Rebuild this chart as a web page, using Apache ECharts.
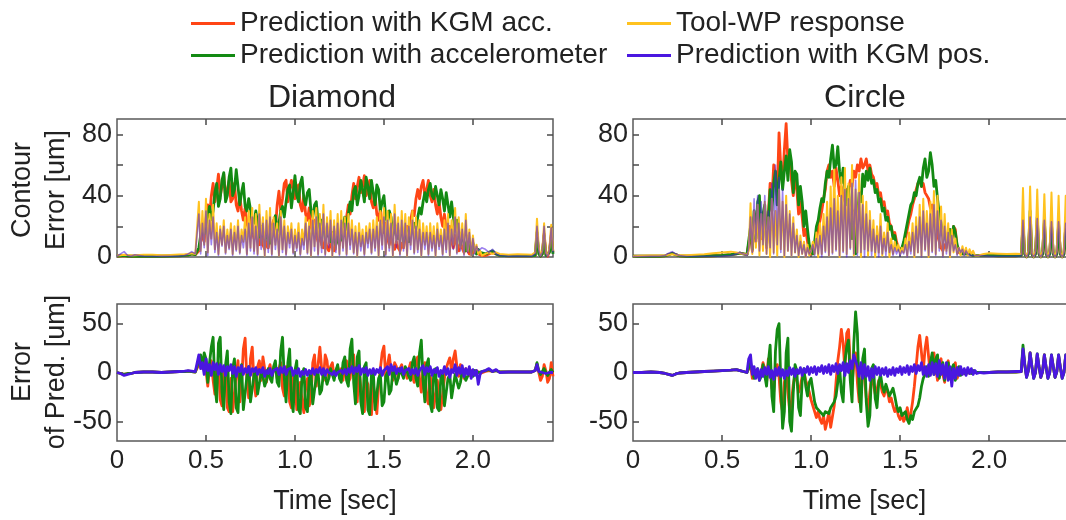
<!DOCTYPE html>
<html>
<head>
<meta charset="utf-8">
<title>Contour error and prediction error</title>
<script src="https://cdn.jsdelivr.net/npm/echarts@6/dist/echarts.min.js"></script>
<style>
  html, body { margin: 0; padding: 0; background: #fff; }
  #chart { width: 1066px; height: 520px; }
</style>
</head>
<body>
<div id="chart"></div>
<script>
// ---------- sample times (centiseconds) ----------
const DIAMOND_T_CS = [
  0,2,4,6,8,10,15,20,25,30,35,38,40,42,44,
  45,46,47,48,49,50,51,52,53,54, 55,56,57,58,59,60,61,62,63,64,
  65,66,67,68,69,70,71,72,73,74, 75,76,77,78,79,80,81,82,83,84,
  85,86,87,88,89,90,91,92,93,94, 95,96,97,98,99,100,101,102,103,104,
  105,106,107,108,109,110,111,112,113,114, 115,116,117,118,119,120,121,122,123,124,
  125,126,127,128,129,130,131,132,133,134, 135,136,137,138,139,140,141,142,143,144,
  145,146,147,148,149,150,151,152,153,154, 155,156,157,158,159,160,161,162,163,164,
  165,166,167,168,169,170,171,172,173,174, 175,176,177,178,179,180,181,182,183,184,
  185,186,187,188,189,190,191,192,193,194, 195,196,197,198,199,200,201,202,203,204,
  205,
  207,209,211,213,215,220,225,230,233,
  234,235,236,237,238,239,240,241,242,243,244,245
];
const CIRCLE_T_CS = [
  0,5,10,15,18,20,22,24,26,30,35,40,45,50,55,58,60,62,64,
  65,66,67,68,69,70,71,72,73,74, 75,76,77,78,79,80,81,82,83,84,
  85,86,87,88,89,90,91,92,93,94, 95,96,97,98,99,100,101,102,103,104,
  105,106,107,108,109,110,111,112,113,114, 115,116,117,118,119,120,121,122,123,124,
  125,126,127,128,129,130,131,132,133,134, 135,136,137,138,139,140,141,142,143,144,
  145,146,147,148,149,150,151,152,153,154, 155,156,157,158,159,160,161,162,163,164,
  165,166,167,168,169,170,171,172,173,174, 175,176,177,178,179,180,181,182,183,184,
  185,186,187,188,189,190,191,192,193,194,
  195,
  197,200,205,210,215,218,
  219,220,221,222,223,224,225,226,227,228,229,230,231,232,233,234,235,236,237,238,239,240,241,242,243,244,245
];

// ---------- Diamond: contour error [um] ----------
const DIAMOND_CONTOUR_KGM_ACC = [
  0.5,0.7,0.9,0.6,0.5,0.5,0.5,0.6,0.5,0.7,0.8,1,1.3,2,1.5,
  1,4,10,16,10,24,34,26,40,48,
  36,44,54,40,46,54,38,44,50,36,
  38,48,34,30,40,30,24,32,22,18,
  26,16,12,20,12,8,14,8,5,10,
  6,12,20,24,18,34,43,30,38,48,
  50,36,44,50,50,38,42,47,34,30,
  40,28,24,32,20,16,24,14,10,16,
  8,6,12,6,4,10,6,4,9,14,
  8,16,22,14,26,34,28,40,48,38,
  46,52,42,46,53,40,44,50,36,32,
  40,28,24,32,20,16,22,12,8,14,
  8,5,10,6,4,9,6,12,20,14,
  24,30,27,38,44,38,46,50,40,44,
  50,40,36,44,34,28,36,26,20,28,
  18,12,20,10,6,14,8,4,10,6,
  3,8,4,2,6,3,2,4,2,1,
  1,
  1,2,3,2,1,0.8,0.7,0.8,0.7,
  0.5,1,14,3,0.5,2,15,2,0.5,4,14,3
];
const DIAMOND_CONTOUR_ACCEL = [
  0.5,0.8,1,0.6,0.5,0.4,0.5,0.6,0.5,0.6,0.8,1,1.2,2,1.5,
  2,6,14,22,15,20,28,33,24,30,
  42,48,33,38,50,55,36,40,52,58,
  40,44,57,46,34,42,48,33,30,38,
  38,24,22,30,22,13,20,16,10,14,
  16,9,14,20,27,16,22,30,33,26,
  36,44,47,32,42,53,40,36,48,52,
  38,34,42,44,30,26,34,36,22,18,
  24,22,12,14,18,10,16,14,8,12,
  16,11,20,26,18,28,36,30,43,46,
  34,40,50,44,36,52,46,38,50,42,
  34,47,44,30,36,40,26,22,30,26,
  14,18,20,12,16,18,10,14,17,10,
  15,18,22,18,26,32,28,36,42,36,
  44,48,40,38,46,40,34,44,38,30,
  42,34,26,36,26,18,24,16,8,14,
  10,4,12,8,3,9,5,2,5,3,
  2,
  2,3,4,2,1,0.8,0.7,0.8,0.7,
  0.5,1,16,2,0.5,2,14,1,0.5,3,13,2
];
const DIAMOND_CONTOUR_TOOL_WP = [
  1,1.2,1.5,1.3,1,1.2,1.5,1.4,1.2,1.3,1.6,1.8,2,2.5,2,
  2,36,4,30,8,38,3,28,12,34,
  5,22,2,20,8,24,3,18,6,22,
  2,20,5,24,3,18,10,26,2,30,
  6,32,4,28,2,34,8,26,1,30,
  6,32,2,26,8,22,1,30,5,24,
  2,20,9,22,3,18,6,22,2,18,
  8,26,3,24,1,30,7,32,2,28,
  6,34,2,26,9,30,1,24,5,28,
  2,30,6,26,2,28,8,24,3,20,
  1,22,7,18,2,20,9,22,3,24,
  6,26,1,30,8,32,2,30,6,28,
  1,34,9,26,2,30,6,28,1,26,
  8,30,3,26,5,24,1,22,8,20,
  2,22,6,20,1,22,7,18,2,24,
  5,28,1,24,8,32,3,26,6,22,
  2,28,4,18,1,14,3,8,2,4,
  1,
  2,3,2,3,2,1.5,1.8,1.6,1.4,
  1,3,25,6,1,4,22,3,1,6,21,4
];
const DIAMOND_CONTOUR_KGM_POS = [
  0.5,2,3.5,1,0.5,1.5,0.5,0.3,0.4,0.5,0.6,1,2,3.5,2,
  3,28,2,22,6,30,1,24,8,26,
  3,16,1,18,7,20,2,14,5,18,
  1,16,4,20,2,14,6,18,1,22,
  4,26,2,20,1,28,5,22,1,24,
  3,26,1,22,5,18,1,26,3,20,
  1,16,6,18,2,14,4,16,1,12,
  5,22,2,20,1,24,4,26,1,22,
  3,28,1,22,6,24,1,20,3,22,
  1,24,4,22,1,22,5,18,2,16,
  1,16,4,14,1,16,6,18,2,18,
  4,20,1,24,5,26,1,24,4,22,
  1,28,6,22,1,24,4,22,1,20,
  5,24,2,20,3,18,1,16,5,16,
  1,16,4,14,1,18,5,14,1,18,
  3,22,1,18,5,26,2,22,4,18,
  1,24,3,16,1,12,2,7,4,5,
  6,
  5,3,5,2,1,0.5,0.6,0.5,0.5,
  0.5,2,20,4,0.5,3,20,2,0.5,5,19,3
];

// ---------- Diamond: error of prediction [um] ----------
const DIAMOND_PRED_KGM_ACC = [
  0,-1,-2,-1,-1,0,0.5,0.5,0,0.5,1,1,1.5,1,0.5,
  1,8,14,4,12,2,-14,6,12,-8,
  -22,4,10,-28,-34,0,6,-36,-40,-6,
  -40,-38,-2,12,-30,-10,24,35,-8,-26,
  14,26,-10,-24,6,12,-8,16,4,-10,
  2,8,-4,2,8,-6,4,10,-16,-24,
  6,2,-30,-36,-4,-8,-38,-40,-10,-30,
  -41,-12,-6,-34,-28,10,18,-14,8,26,
  4,-8,18,12,-6,6,10,-4,2,6,
  -2,4,-8,6,12,-10,-6,14,18,-22,
  -30,4,2,-34,-40,-8,-12,-40,-43,-10,
  -30,-42,-14,4,20,27,-6,8,18,2,
  -8,10,6,-6,4,8,-2,2,-6,4,
  10,-4,-10,12,16,-6,-20,4,10,-26,
  -32,-4,-10,-36,-38,-8,-20,-38,-36,-6,
  4,10,15,2,14,22,6,-4,8,2,
  -6,4,2,-3,2,0,-2,2,0,-1,
  0,
  1,2,1,2,0.5,0.5,0.5,0.5,0.5,
  0.5,2,9,0,-8,-4,8,2,-10,-6,10,-4
];
const DIAMOND_PRED_ACCEL = [
  0,-1,-2,-1,-1,0,0.5,0.5,0,0.5,1,1,1.5,1,0.5,
  2,12,18,6,20,14,-10,10,26,36,
  -12,-30,30,36,-20,-38,8,22,-30,-42,
  4,14,-36,-41,0,8,-38,-40,-4,6,
  -30,-32,-2,2,-22,-20,0,-4,-14,-8,
  4,-6,-10,6,12,-10,-14,22,36,-6,
  -30,10,24,-28,-40,2,12,-38,-42,-2,
  4,-36,-40,-6,0,-32,-30,-4,0,-22,
  -18,0,-3,-12,-6,4,-2,-8,2,8,
  -6,-10,10,16,-8,-14,24,34,-10,-32,
  16,22,-30,-42,6,10,-38,-43,-2,2,
  -38,-40,-6,-2,-34,-30,-4,0,-22,-18,
  2,-2,-12,-6,4,2,-6,6,8,-4,
  -8,10,16,-6,-14,20,33,-8,-30,8,
  14,-32,-40,0,4,-36,-39,-4,0,-34,
  -34,-6,-2,-26,-24,-2,-4,-16,-10,2,
  -2,-8,-4,3,0,-4,2,4,0,2,
  1,
  2,3,1,2,0.5,0.5,0.5,0.5,0.5,
  0.5,2,10,2,-2,0,4,0,-3,0,3,0
];
const DIAMOND_PRED_KGM_POS = [
  0,-1,-3,-2,-1,0,0.5,0.5,0,0.5,1,1.5,2,1.5,1,
  2,18,4,10,-2,14,2,8,-3,10,
  3,9,-2,8,1,7,-3,6,2,8,
  -1,6,-4,5,1,7,-2,4,0,6,
  -3,4,1,5,-2,3,0,5,-4,2,
  -1,4,-3,2,0,4,-2,5,0,6,
  -2,3,1,5,-3,2,-1,4,-4,1,
  -2,3,-3,2,-1,4,-2,3,0,5,
  -2,4,-3,3,0,2,-2,1,-3,0,
  -2,2,-1,3,-2,4,0,6,-1,5,
  1,7,-2,4,0,5,-3,3,-1,4,
  -2,3,0,5,-3,2,0,6,-2,8,
  2,6,-1,4,1,5,-2,2,0,4,
  -2,3,-1,4,-3,2,0,7,-2,5,
  1,6,-3,3,0,5,-4,2,-1,6,
  -2,4,-5,3,0,8,-3,5,-1,7,
  -4,4,-2,6,-6,3,-3,2,-12,-2,
  1,
  2,4,1,3,0,0.5,0.5,0.5,0.5,
  0.5,2,8,1,-1,0,1,-1,-2,0,-1,0
];

// ---------- Circle: contour error [um] ----------
const CIRCLE_CONTOUR_KGM_ACC = [
  0.5,0.5,0.6,0.5,0.8,1.5,2.5,1.5,0.8,0.5,0.5,0.6,0.8,1,1.5,2,2.5,2,1.5,
  2,16,4,26,10,32,36,12,26,30,
  6,28,48,36,60,52,40,81,58,48,
  70,87,62,66,50,40,52,44,28,36,
  26,14,18,10,4,2,4,8,12,18,
  24,30,38,44,56,60,52,56,46,58,
  50,40,46,40,36,44,42,50,46,56,
  52,60,56,64,58,60,64,56,60,54,
  52,46,48,40,42,34,36,28,30,22,
  20,14,16,10,6,4,5,8,12,18,
  24,28,34,38,44,48,50,46,48,42,
  40,38,32,34,24,20,14,10,6,4,
  8,6,12,16,10,20,18,6,3,2,
  2,3,2,1,2,1,1,1,1,1,
  1,
  1,1,0.8,0.8,0.8,1,
  20,2,0,2,26,2,0,2,24,2,0,2,22,2,0,2,21,2,0,2,21,2,0,2,20,2,0
];
const CIRCLE_CONTOUR_ACCEL = [
  0.5,0.5,0.6,0.5,0.8,1.5,2.5,1.5,0.8,0.5,0.5,0.6,0.8,1,1.5,2,2.5,2,1.5,
  2,20,5,30,12,36,40,14,28,34,
  8,24,44,30,48,56,34,50,62,44,
  56,66,50,70,62,42,56,54,34,46,
  36,20,30,18,8,4,2,10,20,24,
  32,38,36,48,56,52,64,73,58,60,
  72,56,48,58,44,34,46,26,12,30,
  2,26,42,36,54,46,56,50,58,48,
  50,42,44,36,38,30,32,24,26,18,
  20,12,14,7,8,4,6,10,16,22,
  28,34,36,42,40,48,52,46,58,64,
  52,56,68,60,46,50,38,28,22,14,
  16,10,14,18,12,20,16,8,4,3,
  2,3,2,1,2,1,1,1,1,1,
  1,
  1,1,0.8,0.8,0.8,1,
  22,2,0,2,30,2,0,2,26,2,0,2,24,2,0,2,22,2,0,2,22,2,0,2,20,2,0
];
const CIRCLE_CONTOUR_TOOL_WP = [
  0.5,0.8,1,1,1.2,1.5,1.8,1.5,1.2,1.2,1.5,1.8,2.5,3,3.5,3,2.5,2,1.5,
  4,35,2,30,6,34,1,28,4,36,
  2,26,0,38,3,30,1,44,5,36,
  0,40,4,30,1,26,3,18,0,14,
  2,10,0,8,1,4,10,2,16,0,
  22,2,28,4,36,1,46,3,57,5,
  40,0,52,4,58,2,48,6,60,1,
  44,3,54,0,40,5,36,1,30,4,
  24,0,20,3,28,1,16,4,22,0,
  12,2,10,4,8,2,6,3,12,1,
  16,4,22,0,26,3,34,1,38,5,
  30,0,36,4,43,2,40,6,33,1,
  28,4,22,0,18,3,12,2,6,1,
  7,2,6,1,5,2,4,1,2,1,
  1.5,
  2,2.5,2.2,2,2.2,2,
  45,3,0,4,46,3,0,4,44,3,0,4,41,3,0,4,42,3,0,4,40,3,0,4,40,3,0
];
const CIRCLE_CONTOUR_KGM_POS = [
  0.3,0.3,0.4,0.5,1,2.5,3.5,2,1,0.3,0.3,0.4,0.5,0.6,1,2,3,2,1,
  6,26,3,38,10,40,4,36,8,40,
  2,30,6,48,2,60,8,52,3,44,
  1,34,4,28,1,22,3,14,1,10,
  2,8,0,6,2,4,8,1,12,2,
  14,0,20,3,26,1,32,2,38,4,
  30,1,40,3,44,0,38,5,48,2,
  50,1,42,3,34,0,28,4,24,1,
  18,3,14,0,20,2,12,1,16,3,
  8,1,6,2,5,1,4,2,8,0,
  10,2,16,1,20,3,26,0,30,4,
  22,1,28,3,34,1,30,4,24,0,
  20,2,16,1,14,4,8,1,6,3,
  5,1,4,2,3,1,2,1,1,1,
  1,
  0.8,0.6,0.5,0.5,0.6,0.8,
  24,2,0,2,26,2,0,2,25,2,0,2,24,2,0,2,23,2,0,2,23,2,0,2,22,2,0
];

// ---------- Circle: error of prediction [um] ----------
const CIRCLE_PRED_KGM_ACC = [
  0,0,0.5,0,-1,-2,-3,-1.5,-0.5,0,0.5,1,1.5,2,2.5,3,2,1,0,
  0,8,-6,-8,2,4,-6,0,10,4,
  -10,14,4,-16,-20,2,8,-4,-30,-40,
  -10,0,-20,-40,-30,-12,-2,-8,-20,-14,
  -4,0,-8,-14,-20,-28,-34,-40,-46,-40,
  -48,-52,-44,-58,-50,-40,-56,-58,-34,-10,
  12,26,44,30,2,40,44,10,-12,8,
  20,-10,-30,-14,6,-6,-26,-40,-20,-4,
  -12,-22,-18,-8,-12,-20,-24,-16,-20,-30,
  -26,-34,-40,-36,-44,-48,-42,-50,-46,-36,
  -48,-42,-30,-14,6,26,38,20,2,24,
  36,16,-2,14,20,4,-8,10,14,-2,
  -10,8,12,-4,-8,6,10,-6,-4,3,
  2,-1,2,1,-1,1,0,1,0,0,
  0,
  0,0,0.5,0.5,0.5,1,
  22,8,-4,2,20,6,-5,0,18,6,-5,1,18,5,-5,0,17,6,-5,1,17,5,-5,0,17,5,-5
];
const CIRCLE_PRED_ACCEL = [
  0,0,0.5,0,-1,-2,-3,-1.5,-0.5,0,0.5,1,1.5,2,2.5,3,2,1,0,
  0,10,12,-6,-2,4,-8,-4,8,6,
  -14,10,28,-24,-40,22,44,50,-10,-57,
  -40,20,35,-50,-60,-20,8,2,-36,-44,
  -8,4,-14,-24,-10,-6,-18,-30,-36,-34,
  -40,-38,-44,-40,-38,-42,-36,-38,-30,-24,
  -10,6,-20,-30,12,26,33,-8,-30,30,
  62,40,-20,-40,14,24,-30,-55,-44,4,
  8,-26,-36,-10,-2,-14,-20,-12,-18,-24,
  -20,-16,-24,-34,-40,-36,-44,-46,-40,-48,
  -52,-44,-48,-40,-42,-34,-26,-14,-6,-2,
  6,-4,10,20,-2,14,18,-6,4,10,
  -8,6,10,-6,4,8,-8,2,6,-3,
  2,4,-2,2,3,-1,2,1,0,1,
  0,
  0,0,0.5,0.5,0.5,1,
  28,8,-5,2,20,6,-6,0,19,6,-5,1,18,5,-6,0,18,6,-5,1,18,5,-6,0,18,5,-5
];
const CIRCLE_PRED_KGM_POS = [
  0,0,0.5,0,-1,-2,-3,-1.5,-0.5,0,0.5,1,1.5,2,2.5,3,2,1,0,
  14,18,-2,6,-6,4,-8,3,-4,5,
  -2,6,-5,2,-7,4,-3,5,-4,3,
  -6,2,-3,5,-2,4,-4,3,-1,5,
  -3,4,0,6,-2,5,0,6,-2,5,
  1,7,-1,6,0,8,-2,7,1,9,
  -1,8,2,10,-3,9,0,12,4,18,
  20,6,-4,10,-6,8,-4,6,-8,4,
  -5,6,-2,5,-3,4,-2,5,-4,3,
  -2,5,-3,4,0,6,-2,5,0,7,
  -2,6,1,8,-1,7,2,10,-2,6,
  -4,8,-3,10,-2,9,-4,12,-2,8,
  -6,10,-8,6,-14,4,-6,5,-3,6,
  -2,4,-3,5,-1,4,-2,2,-1,1,
  0,
  -0.5,0,0.5,0.5,1,1,
  24,8,-5,2,20,6,-6,0,19,6,-5,1,18,5,-6,0,18,6,-5,1,18,5,-6,0,18,5,-5
];

// ---------- labels ----------
const PANEL_TITLES = ['Diamond', 'Circle'];
const SERIES_NAMES = {
  kgmAcc: 'Prediction with KGM acc.',
  accel: 'Prediction with accelerometer',
  toolWp: 'Tool-WP response',
  kgmPos: 'Prediction with KGM pos.'
};
const TIME_TICKS = [0, 0.5, 1, 1.5, 2];
const CONTOUR_LABELS = [0, 40, 80];
const CONTOUR_TICKS = [20, 40, 60, 80];
const PRED_TICKS = [-50, 0, 50];

// ---------- chart ----------
const FONT = "'Liberation Sans', Arial, Helvetica, sans-serif";
const COLORS = { kgmAcc: '#ff4515', accel: '#138a13', toolWp: '#ffc21f', kgmPos: '#4a17e0' };
const TICK_STYLE = { color: '#4a4a4a', width: 1.5 };

const pairs = (tCs, values) => tCs.map((t, i) => [t / 100, values[i]]);

const grids = [
  { left: 117, top: 119, width: 436, height: 138 },
  { left: 633, top: 119, width: 463, height: 138 },
  { left: 117, top: 304, width: 436, height: 137 },
  { left: 633, top: 304, width: 463, height: 137 }
].map(g => Object.assign(g, {
  show: true, borderColor: '#5a5a5a', borderWidth: 1.5, backgroundColor: 'transparent',
  containLabel: false, outerBoundsMode: 'none'
}));

const xMax = [2.45, 2.6, 2.45, 2.6];
const xAxes = [];
const yAxes = [];
for (let p = 0; p < 4; p++) {
  const bottomRow = p >= 2;
  xAxes.push({
    type: 'value', gridIndex: p, position: 'bottom', min: 0, max: xMax[p],
    axisLine: { show: false, onZero: false }, splitLine: { show: false },
    axisTick: { show: true, inside: true, length: 6, customValues: [0.5, 1, 1.5, 2], lineStyle: TICK_STYLE },
    axisLabel: {
      show: bottomRow, customValues: TIME_TICKS, margin: 7, fontSize: 26, color: '#222', fontFamily: FONT,
      formatter: v => (v === 0 ? '0' : v.toFixed(1))
    },
    name: bottomRow ? 'Time [sec]' : '', nameLocation: 'middle', nameGap: 47,
    nameTextStyle: { fontSize: 27, color: '#222', fontFamily: FONT }
  });
  const yCfg = bottomRow
    ? { min: -70, max: 70, ticks: PRED_TICKS, labels: PRED_TICKS }
    : { min: 0, max: 90, ticks: CONTOUR_TICKS, labels: CONTOUR_LABELS };
  yAxes.push({
    type: 'value', gridIndex: p, position: 'left', min: yCfg.min, max: yCfg.max,
    axisLine: { show: false, onZero: false }, splitLine: { show: false },
    axisTick: { show: true, inside: true, length: 6, customValues: yCfg.ticks, lineStyle: TICK_STYLE },
    axisLabel: { customValues: yCfg.labels, margin: 5, fontSize: 27, color: '#222', fontFamily: FONT }
  });
}
for (let p = 0; p < 4; p++) {
  const bottomRow = p >= 2;
  xAxes.push({
    type: 'value', gridIndex: p, position: 'top', min: 0, max: xMax[p],
    axisLine: { show: false, onZero: false }, splitLine: { show: false }, axisLabel: { show: false },
    axisTick: { show: true, inside: true, length: 6, customValues: [0.5, 1, 1.5, 2], lineStyle: TICK_STYLE }
  });
  yAxes.push({
    type: 'value', gridIndex: p, position: 'right',
    min: bottomRow ? -70 : 0, max: bottomRow ? 70 : 90,
    axisLine: { show: false, onZero: false }, splitLine: { show: false }, axisLabel: { show: false },
    axisTick: { show: true, inside: true, length: 6, customValues: bottomRow ? PRED_TICKS : CONTOUR_TICKS, lineStyle: TICK_STYLE }
  });
}

function line(key, panel, tCs, values, width, opacity) {
  return {
    type: 'line', name: SERIES_NAMES[key], xAxisIndex: panel, yAxisIndex: panel,
    data: pairs(tCs, values), showSymbol: false, symbol: 'none', animation: false,
    color: COLORS[key],
    lineStyle: { color: COLORS[key], width: width, opacity: opacity === undefined ? 1 : opacity, join: 'round' }
  };
}

const series = [
  line('kgmAcc', 0, DIAMOND_T_CS, DIAMOND_CONTOUR_KGM_ACC, 2.8),
  line('accel', 0, DIAMOND_T_CS, DIAMOND_CONTOUR_ACCEL, 2.8),
  line('toolWp', 0, DIAMOND_T_CS, DIAMOND_CONTOUR_TOOL_WP, 2),
  line('kgmPos', 0, DIAMOND_T_CS, DIAMOND_CONTOUR_KGM_POS, 1.6, 0.55),

  line('kgmAcc', 1, CIRCLE_T_CS, CIRCLE_CONTOUR_KGM_ACC, 2.8),
  line('accel', 1, CIRCLE_T_CS, CIRCLE_CONTOUR_ACCEL, 2.8),
  line('toolWp', 1, CIRCLE_T_CS, CIRCLE_CONTOUR_TOOL_WP, 2),
  line('kgmPos', 1, CIRCLE_T_CS, CIRCLE_CONTOUR_KGM_POS, 1.6, 0.55),

  line('kgmAcc', 2, DIAMOND_T_CS, DIAMOND_PRED_KGM_ACC, 2.8),
  line('accel', 2, DIAMOND_T_CS, DIAMOND_PRED_ACCEL, 2.8),
  line('kgmPos', 2, DIAMOND_T_CS, DIAMOND_PRED_KGM_POS, 2.8),

  line('kgmAcc', 3, CIRCLE_T_CS, CIRCLE_PRED_KGM_ACC, 2.8),
  line('accel', 3, CIRCLE_T_CS, CIRCLE_PRED_ACCEL, 2.8),
  line('kgmPos', 3, CIRCLE_T_CS, CIRCLE_PRED_KGM_POS, 2.8)
];

const legendBase = {
  orient: 'vertical', top: 4, itemWidth: 44, itemHeight: 3, itemGap: 3, icon: 'rect',
  selectedMode: false,
  textStyle: { fontSize: 28, lineHeight: 29, color: '#222', fontFamily: FONT }
};

function axisTitle(text, x, y) {
  return {
    type: 'text', x: x, y: y, rotation: Math.PI / 2, silent: true,
    style: {
      text: text, fill: '#222', fontSize: 27, fontFamily: FONT, lineHeight: 34,
      align: 'center', verticalAlign: 'middle', textAlign: 'center', textVerticalAlign: 'middle'
    }
  };
}

const chart = echarts.init(document.getElementById('chart'), null, { renderer: 'canvas' });
chart.setOption({
  animation: false,
  backgroundColor: '#fff',
  textStyle: { fontFamily: FONT },
  title: [
    { text: PANEL_TITLES[0], left: 327, top: 77, textAlign: 'center', textStyle: { fontSize: 32, fontWeight: 'normal', color: '#222', fontFamily: FONT } },
    { text: PANEL_TITLES[1], left: 860, top: 77, textAlign: 'center', textStyle: { fontSize: 32, fontWeight: 'normal', color: '#222', fontFamily: FONT } }
  ],
  legend: [
    Object.assign({ left: 186, data: [SERIES_NAMES.kgmAcc, SERIES_NAMES.accel] }, legendBase),
    Object.assign({ left: 622, data: [SERIES_NAMES.toolWp, SERIES_NAMES.kgmPos] }, legendBase)
  ],
  grid: grids,
  xAxis: xAxes,
  yAxis: yAxes,
  series: series,
  graphic: [
    axisTitle('Contour\nError [um]', 40, 190),
    axisTitle('Error\nof Pred. [um]', 40, 372)
  ]
});
</script>
</body>
</html>
